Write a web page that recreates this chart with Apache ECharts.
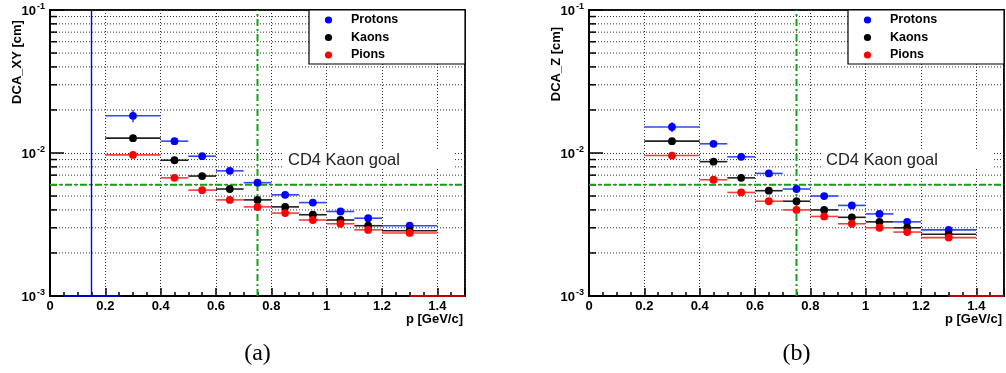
<!DOCTYPE html>
<html>
<head>
<meta charset="utf-8">
<script src="https://cdn.jsdelivr.net/npm/echarts@6/dist/echarts.min.js"></script>
<style>
html,body{margin:0;padding:0;background:#fff;}
#chart{width:1006px;height:373px;}
</style>
</head>
<body>
<div id="chart"></div>
<script>
// ---------------- data ----------------
const momentum = [0.3, 0.45, 0.55, 0.65, 0.75, 0.85, 0.95, 1.05, 1.15, 1.3];
const binLow   = [0.2, 0.4, 0.5, 0.6, 0.7, 0.8, 0.9, 1.0, 1.1, 1.2];
const binHigh  = [0.4, 0.5, 0.6, 0.7, 0.8, 0.9, 1.0, 1.1, 1.2, 1.4];

// DCA_XY [cm]
const protonsXY = [0.0182, 0.0121, 0.0095, 0.0075, 0.0062, 0.0051, 0.0045, 0.0039, 0.0035, 0.0031];
const kaonsXY   = [0.0127, 0.0089, 0.0069, 0.0056, 0.0047, 0.0042, 0.0037, 0.0034, 0.0031, 0.00286];
const pionsXY   = [0.0097, 0.0067, 0.0055, 0.0047, 0.0042, 0.0038, 0.0034, 0.0032, 0.0029, 0.00276];
const protonsXYErr = [0.0018, 0.0005, 0.0003, 0.0002, 0.0002, 0.0001, 0.0001, 0.0001, 0.0001, 0.0001];
const kaonsXYErr   = [0.0004, 0.0002, 0.0002, 0.0001, 0.0001, 0.0001, 0.0001, 0.0001, 0.0001, 0.0001];
const pionsXYErr   = [0.0003, 0.0002, 0.0001, 0.0001, 0.0001, 0.0001, 0.0001, 0.0001, 0.0001, 0.0001];

// DCA_Z [cm]
const protonsZ = [0.0152, 0.0116, 0.0094, 0.0072, 0.0056, 0.0050, 0.0043, 0.00375, 0.0033, 0.0029];
const kaonsZ   = [0.0121, 0.0087, 0.0067, 0.00545, 0.0046, 0.0040, 0.00355, 0.0033, 0.0030, 0.0027];
const pionsZ   = [0.0096, 0.0065, 0.0053, 0.0046, 0.0040, 0.0036, 0.0032, 0.0030, 0.0028, 0.00256];
const protonsZErr = [0.0012, 0.0004, 0.0003, 0.0002, 0.0002, 0.0001, 0.0001, 0.0001, 0.0001, 0.0001];
const kaonsZErr   = [0.0003, 0.0002, 0.0001, 0.0001, 0.0001, 0.0001, 0.0001, 0.0001, 0.0001, 0.0001];
const pionsZErr   = [0.0003, 0.0002, 0.0001, 0.0001, 0.0001, 0.0001, 0.0001, 0.0001, 0.0001, 0.0001];

// bins whose value lies below the axis range: [binLow, binHigh, errorBarReachesTop]
const offscaleProtonsXY = [[0.05, 0.25, 1]];
const offscalePionsXY   = [[1.3, 1.5, 0]];
const offscalePionsZ    = [[1.3, 1.5, 0]];

// axes
const xMin = 0, xMax = 1.5, xStep = 0.2;
const yMin = 0.001, yMax = 0.1;
const yMinorTicks = [0.002,0.003,0.004,0.005,0.006,0.007,0.008,0.009,0.02,0.03,0.04,0.05,0.06,0.07,0.08,0.09];
const goalDCA = 0.006, goalP = 0.75;

const speciesNames = ['Protons', 'Kaons', 'Pions'];
const speciesColors = ['#0000ff', '#000000', '#ff0000'];
const barColors = ['#3048ff', '#202020', '#ff3a3a'];
const yTitles = ['DCA_XY [cm]', 'DCA_Z [cm]'];
const xTitle = 'p [GeV/c]';
const goalLabel = 'CD4 Kaon goal';
const captions = ['(a)', '(b)'];

// ---------------- layout ----------------
const FONT = '"Liberation Sans", Arial, Helvetica, sans-serif';
const grids = [
  {left: 50, top: 10, width: 415, height: 286},
  {left: 589, top: 10, width: 415, height: 286}
];

function errorSeries(name, color, barColor, gi, vals, errs) {
  return {
    type: 'custom', name: name, xAxisIndex: gi, yAxisIndex: gi,
    data: momentum.map((x, i) => [x, vals[i], binLow[i], binHigh[i], errs[i]]),
    encode: {x: 0, y: 1},
    z: 5,
    renderItem: function (params, api) {
      const x = api.value(0), y = api.value(1), lo = api.value(2), hi = api.value(3), e = api.value(4);
      const pL = api.coord([lo, y]), pR = api.coord([hi, y]), pC = api.coord([x, y]);
      const pT = api.coord([x, y + e]), pB = api.coord([x, Math.max(y - e, yMin)]);
      return {type: 'group', children: [
        {type: 'line', shape: {x1: pL[0], y1: pL[1], x2: pR[0], y2: pR[1]}, style: {stroke: barColor, lineWidth: 1.6}},
        {type: 'line', shape: {x1: pT[0], y1: pT[1], x2: pB[0], y2: pB[1]}, style: {stroke: barColor, lineWidth: 1.6}},
        {type: 'circle', shape: {cx: pC[0], cy: pC[1], r: 3.9}, style: {fill: color}}
      ]};
    }
  };
}

function offscaleSeries(color, gi, rows) {
  return {
    type: 'custom', xAxisIndex: gi, yAxisIndex: gi, data: rows, encode: {x: 0}, z: 5, silent: true,
    renderItem: function (params, api) {
      const lo = api.value(0), hi = api.value(1), top = api.value(2);
      const a = api.coord([lo, yMin]), b = api.coord([hi, yMin]);
      const ch = [{type: 'line', shape: {x1: a[0], y1: a[1], x2: b[0], y2: b[1]}, style: {stroke: color, lineWidth: 1.6}}];
      if (top) {
        const c0 = api.coord([(lo + hi) / 2, yMin]), c1 = api.coord([(lo + hi) / 2, yMax]);
        ch.push({type: 'line', shape: {x1: c0[0], y1: c0[1], x2: c1[0], y2: c1[1]}, style: {stroke: color, lineWidth: 1.4}});
      }
      return {type: 'group', children: ch};
    }
  };
}

function decorSeries(gi) {
  return {
    type: 'custom', xAxisIndex: gi, yAxisIndex: gi, silent: true, z: 1,
    data: yMinorTicks.map(v => [xMin, v]), encode: {x: 0, y: 1},
    renderItem: function (params, api) {
      const cs = params.coordSys;
      const y = api.coord([xMin, api.value(1)])[1];
      return {type: 'group', children: [
        {type: 'line', shape: {x1: cs.x, y1: y, x2: cs.x + cs.width, y2: y}, style: {stroke: '#333', lineWidth: 1, lineDash: [1, 2]}},
        {type: 'line', shape: {x1: cs.x, y1: y, x2: cs.x + 7, y2: y}, style: {stroke: '#000', lineWidth: 1.5}}
      ]};
    }
  };
}

function goalSeries(gi) {
  return {
    type: 'custom', xAxisIndex: gi, yAxisIndex: gi, silent: true, z: 3,
    data: [[goalP, goalDCA]], encode: {x: 0, y: 1},
    renderItem: function (params, api) {
      const cs = params.coordSys;
      const p = api.coord([api.value(0), api.value(1)]);
      const st = {stroke: '#16a016', lineWidth: 2, lineDash: [7, 3, 2, 3]};
      return {type: 'group', children: [
        {type: 'line', shape: {x1: cs.x, y1: p[1], x2: cs.x + cs.width, y2: p[1]}, style: st},
        {type: 'line', shape: {x1: p[0], y1: cs.y + cs.height, x2: p[0], y2: cs.y}, style: st}
      ]};
    }
  };
}

const series = [];
[0, 1].forEach(gi => {
  series.push(decorSeries(gi));
  series.push(goalSeries(gi));
});
series.push(offscaleSeries(speciesColors[0], 0, offscaleProtonsXY));
series.push(errorSeries('Protons', speciesColors[0], barColors[0], 0, protonsXY, protonsXYErr));
series.push(errorSeries('Kaons', speciesColors[1], barColors[1], 0, kaonsXY, kaonsXYErr));
series.push(errorSeries('Pions', speciesColors[2], barColors[2], 0, pionsXY, pionsXYErr));
series.push(offscaleSeries(speciesColors[2], 0, offscalePionsXY));
series.push(errorSeries('Protons', speciesColors[0], barColors[0], 1, protonsZ, protonsZErr));
series.push(errorSeries('Kaons', speciesColors[1], barColors[1], 1, kaonsZ, kaonsZErr));
series.push(errorSeries('Pions', speciesColors[2], barColors[2], 1, pionsZ, pionsZErr));
series.push(offscaleSeries(speciesColors[2], 1, offscalePionsZ));

// graphic: titles, legend, goal label, captions
const graphic = [];
const yTitleCenters = [[17, 62], [556, 64]];
grids.forEach((g, gi) => {
  const right = g.left + g.width;
  graphic.push({type: 'text', x: yTitleCenters[gi][0], y: yTitleCenters[gi][1], rotation: Math.PI / 2, z: 100,
    style: {text: yTitles[gi], font: 'bold 13px ' + FONT, fill: '#000', align: 'center', verticalAlign: 'middle'}});
  graphic.push({type: 'text', x: right - 2, y: g.top + g.height + 23, z: 100,
    style: {text: xTitle, font: 'bold 13px ' + FONT, fill: '#000', align: 'right', verticalAlign: 'middle'}});
  const lx = right - 156, ly = g.top;
  graphic.push({type: 'rect', shape: {x: lx, y: ly, width: 156, height: 54}, z: 100,
    style: {fill: '#fff', stroke: '#000', lineWidth: 1.2}});
  speciesNames.forEach((n, k) => {
    const cy = ly + 10 + k * 17.5;
    graphic.push({type: 'circle', shape: {cx: lx + 19.5, cy: cy, r: 3.6}, z: 101, style: {fill: speciesColors[k]}});
    graphic.push({type: 'text', x: lx + 42, y: cy, z: 101,
      style: {text: n, font: 'bold 12.5px ' + FONT, fill: '#000', align: 'left', verticalAlign: 'middle'}});
  });
  const gx = gi === 0 ? 283 : 821;
  graphic.push({type: 'rect', shape: {x: gx, y: 151, width: 171, height: 18}, z: 50, style: {fill: '#fff'}});
  graphic.push({type: 'text', x: gx + 5, y: 160.5, z: 51,
    style: {text: goalLabel, font: '16.5px ' + FONT, fill: '#222', align: 'left', verticalAlign: 'middle'}});
  graphic.push({type: 'text', x: g.left + g.width / 2, y: 354, z: 100,
    style: {text: captions[gi], font: '24px "Liberation Serif", "DejaVu Serif", serif', fill: '#000', align: 'center', verticalAlign: 'middle'}});
});

const option = {
  animation: false,
  backgroundColor: '#fff',
  grid: grids.map(g => Object.assign({show: true, borderColor: '#111', borderWidth: 2, backgroundColor: 'transparent', containLabel: false}, g)),
  xAxis: [0, 1].map(gi => ({
    type: 'value', gridIndex: gi, min: xMin, max: xMax, interval: xStep,
    axisLine: {show: true, onZero: false, lineStyle: {color: '#000', width: 2}},
    axisTick: {show: true, inside: true, length: 8, lineStyle: {color: '#000', width: 1.5}},
    minorTick: {show: true, splitNumber: 4, length: 4, lineStyle: {color: '#000', width: 1.5}},
    splitLine: {show: true, lineStyle: {color: '#333', width: 1, type: [1, 2]}},
    axisLabel: {show: true, showMaxLabel: false, margin: 4, color: '#000', fontFamily: FONT, fontWeight: 'bold', fontSize: 13,
      formatter: v => String(Math.round(v * 10) / 10)}
  })),
  yAxis: [0, 1].map(gi => ({
    type: 'log', logBase: 10, gridIndex: gi, min: yMin, max: yMax,
    axisLine: {show: true, onZero: false, lineStyle: {color: '#000', width: 2}},
    axisTick: {show: true, inside: true, length: 14, lineStyle: {color: '#000', width: 1.5}},
    splitLine: {show: true, lineStyle: {color: '#333', width: 1, type: [1, 2]}},
    axisLabel: {show: true, margin: 5, color: '#000',
      formatter: v => '{a|10}{s|' + Math.round(Math.log10(v)) + '}',
      rich: {
        a: {fontFamily: FONT, fontWeight: 'bold', fontSize: 13, color: '#000', verticalAlign: 'bottom'},
        s: {fontFamily: FONT, fontWeight: 'bold', fontSize: 9, color: '#000', verticalAlign: 'top', padding: [0, 0, 6, 1]}
      }}
  })),
  series: series,
  graphic: graphic
};

const chart = echarts.init(document.getElementById('chart'), null, {renderer: 'canvas'});
chart.setOption(option);
</script>
</body>
</html>
